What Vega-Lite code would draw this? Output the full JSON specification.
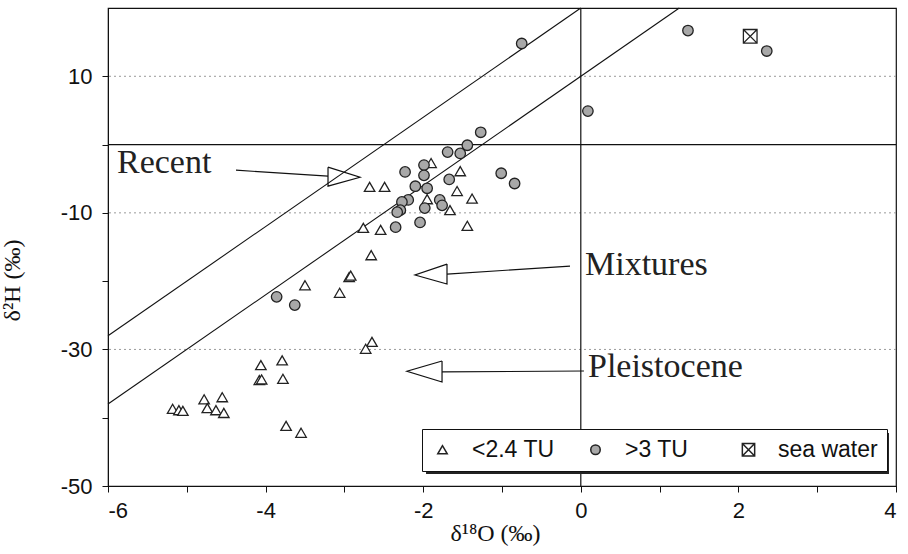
{
  "$schema": "https://vega.github.io/schema/vega-lite/v6.json",
  "width": 788,
  "height": 478,
  "autosize": {"type": "none"},
  "padding": {"left": 108, "top": 8, "right": 12, "bottom": 68},
  "background": "white",
  "config": {
    "view": {"stroke": "#111", "strokeWidth": 1.2},
    "font": "Liberation Sans",
    "axis": {
      "domainColor": "#111",
      "tickColor": "#111",
      "labelColor": "#111",
      "titleColor": "#111",
      "grid": false,
      "labelFont": "Liberation Sans",
      "labelFontSize": 22,
      "tickSize": 6,
      "titleFont": "Liberation Serif",
      "titleFontSize": 24,
      "titleFontWeight": "normal"
    },
    "legend": {
      "orient": "none",
      "legendX": 314,
      "legendY": 421,
      "direction": "horizontal",
      "fillColor": "white",
      "strokeColor": "#111",
      "padding": 9,
      "labelFont": "Liberation Sans",
      "labelFontSize": 23,
      "labelColor": "#111",
      "labelOffset": 18,
      "columnPadding": 12,
      "gridAlign": "all",
      "symbolSize": 90
    }
  },
  "datasets": {
    "samples": [
      {"type": "<2.4 TU", "x": -2.68, "y": -6.2},
      {"type": "<2.4 TU", "x": -2.49, "y": -6.2},
      {"type": "<2.4 TU", "x": -1.90, "y": -2.7},
      {"type": "<2.4 TU", "x": -1.53, "y": -3.9},
      {"type": "<2.4 TU", "x": -1.57, "y": -6.8},
      {"type": "<2.4 TU", "x": -1.38, "y": -7.9},
      {"type": "<2.4 TU", "x": -1.95, "y": -8.0},
      {"type": "<2.4 TU", "x": -1.66, "y": -9.6},
      {"type": "<2.4 TU", "x": -1.44, "y": -11.9},
      {"type": "<2.4 TU", "x": -2.76, "y": -12.2},
      {"type": "<2.4 TU", "x": -2.54, "y": -12.5},
      {"type": "<2.4 TU", "x": -2.66, "y": -16.2},
      {"type": "<2.4 TU", "x": -2.94, "y": -19.4},
      {"type": "<2.4 TU", "x": -2.92, "y": -19.2},
      {"type": "<2.4 TU", "x": -3.50, "y": -20.6},
      {"type": "<2.4 TU", "x": -3.06, "y": -21.7},
      {"type": "<2.4 TU", "x": -2.65, "y": -28.9},
      {"type": "<2.4 TU", "x": -2.73, "y": -29.9},
      {"type": "<2.4 TU", "x": -4.06, "y": -32.3},
      {"type": "<2.4 TU", "x": -3.79, "y": -31.6},
      {"type": "<2.4 TU", "x": -4.08, "y": -34.5},
      {"type": "<2.4 TU", "x": -4.05, "y": -34.4},
      {"type": "<2.4 TU", "x": -3.78, "y": -34.3},
      {"type": "<2.4 TU", "x": -4.78, "y": -37.3},
      {"type": "<2.4 TU", "x": -4.55, "y": -37.0},
      {"type": "<2.4 TU", "x": -5.18, "y": -38.7},
      {"type": "<2.4 TU", "x": -5.10, "y": -38.9},
      {"type": "<2.4 TU", "x": -5.05, "y": -39.0},
      {"type": "<2.4 TU", "x": -4.74, "y": -38.6},
      {"type": "<2.4 TU", "x": -4.63, "y": -38.9},
      {"type": "<2.4 TU", "x": -4.53, "y": -39.3},
      {"type": "<2.4 TU", "x": -3.74, "y": -41.2},
      {"type": "<2.4 TU", "x": -3.55, "y": -42.2},
      {"type": ">3 TU", "x": -0.75, "y": 14.8},
      {"type": ">3 TU", "x": 1.36, "y": 16.7},
      {"type": ">3 TU", "x": 2.36, "y": 13.7},
      {"type": ">3 TU", "x": 0.09, "y": 4.9},
      {"type": ">3 TU", "x": -1.27, "y": 1.8},
      {"type": ">3 TU", "x": -1.44, "y": -0.1},
      {"type": ">3 TU", "x": -1.69, "y": -1.1},
      {"type": ">3 TU", "x": -1.53, "y": -1.3},
      {"type": ">3 TU", "x": -1.99, "y": -3.0},
      {"type": ">3 TU", "x": -2.23, "y": -4.0},
      {"type": ">3 TU", "x": -1.99, "y": -4.5},
      {"type": ">3 TU", "x": -1.01, "y": -4.2},
      {"type": ">3 TU", "x": -0.84, "y": -5.7},
      {"type": ">3 TU", "x": -1.67, "y": -5.1},
      {"type": ">3 TU", "x": -2.10, "y": -6.1},
      {"type": ">3 TU", "x": -1.95, "y": -6.4},
      {"type": ">3 TU", "x": -2.19, "y": -8.1},
      {"type": ">3 TU", "x": -2.27, "y": -8.4},
      {"type": ">3 TU", "x": -1.79, "y": -8.1},
      {"type": ">3 TU", "x": -1.76, "y": -8.9},
      {"type": ">3 TU", "x": -1.98, "y": -9.3},
      {"type": ">3 TU", "x": -2.29, "y": -9.6},
      {"type": ">3 TU", "x": -2.33, "y": -9.9},
      {"type": ">3 TU", "x": -2.04, "y": -11.4},
      {"type": ">3 TU", "x": -2.35, "y": -12.1},
      {"type": ">3 TU", "x": -3.86, "y": -22.3},
      {"type": ">3 TU", "x": -3.63, "y": -23.5},
      {"type": "sea water", "x": 2.15, "y": 15.85}
    ],
    "waterLines": [
      {"line": "recent", "x": -6, "y": -28},
      {"line": "recent", "x": 0, "y": 20},
      {"line": "lower", "x": -6, "y": -38},
      {"line": "lower", "x": 1.25, "y": 20}
    ],
    "arrows": [
      {"id": "recent-shaft", "seq": 1, "x": -4.376, "y": -3.75},
      {"id": "recent-shaft", "seq": 2, "x": -3.208, "y": -4.63},
      {"id": "recent-head", "seq": 1, "x": -3.208, "y": -3.31},
      {"id": "recent-head", "seq": 2, "x": -2.802, "y": -4.78},
      {"id": "recent-head", "seq": 3, "x": -3.208, "y": -6.09},
      {"id": "recent-head", "seq": 4, "x": -3.208, "y": -3.31},
      {"id": "mix-shaft", "seq": 1, "x": -0.137, "y": -17.8},
      {"id": "mix-shaft", "seq": 2, "x": -1.698, "y": -18.97},
      {"id": "mix-head", "seq": 1, "x": -1.698, "y": -17.5},
      {"id": "mix-head", "seq": 2, "x": -2.104, "y": -19.1},
      {"id": "mix-head", "seq": 3, "x": -1.698, "y": -20.43},
      {"id": "mix-head", "seq": 4, "x": -1.698, "y": -17.5},
      {"id": "pleist-shaft", "seq": 1, "x": 0.04, "y": -33.16},
      {"id": "pleist-shaft", "seq": 2, "x": -1.761, "y": -33.3},
      {"id": "pleist-head", "seq": 1, "x": -1.761, "y": -31.7},
      {"id": "pleist-head", "seq": 2, "x": -2.206, "y": -33.2},
      {"id": "pleist-head", "seq": 3, "x": -1.761, "y": -34.77},
      {"id": "pleist-head", "seq": 4, "x": -1.761, "y": -31.7}
    ],
    "labels": [
      {"text": "Recent", "x": -5.886, "y": -4.2},
      {"text": "Mixtures", "x": 0.053, "y": -19.1},
      {"text": "Pleistocene", "x": 0.091, "y": -34.0}
    ],
    "grid": [{"y": -30}, {"y": -10}, {"y": 10}]
  },
  "layer": [
    {
      "data": {"name": "grid"},
      "mark": {"type": "rule", "stroke": "#9a9a9a", "strokeWidth": 1, "strokeDash": [2, 3]},
      "encoding": {
        "y": {"field": "y", "type": "quantitative", "scale": {"domain": [-50, 20], "nice": false}}
      }
    },
    {
      "data": {"values": [{}]},
      "mark": {"type": "rule", "stroke": "#111", "strokeWidth": 1.2},
      "encoding": {"x": {"datum": 0}}
    },
    {
      "data": {"values": [{}]},
      "mark": {"type": "rule", "stroke": "#111", "strokeWidth": 1.2},
      "encoding": {"y": {"datum": 0}}
    },
    {
      "data": {"name": "waterLines"},
      "mark": {"type": "line", "stroke": "#111", "strokeWidth": 1.1},
      "encoding": {
        "x": {"field": "x", "type": "quantitative"},
        "y": {"field": "y", "type": "quantitative"},
        "detail": {"field": "line"}
      }
    },
    {
      "data": {"values": [{}]},
      "mark": {"type": "rect", "fill": "#222"},
      "encoding": {
        "x": {"datum": -1.964},
        "x2": {"datum": 3.911},
        "y": {"datum": -42.24},
        "y2": {"datum": -48.24}
      }
    },
    {
      "data": {"name": "samples"},
      "mark": {"type": "point", "filled": true, "stroke": "#222", "strokeWidth": 1.3, "size": 110, "opacity": 1},
      "encoding": {
        "x": {
          "field": "x",
          "type": "quantitative",
          "scale": {"domain": [-6, 4], "nice": false},
          "axis": {
            "title": "δ¹⁸O (‰)",
            "values": [-6, -5, -4, -3, -2, -1, 0, 1, 2, 3, 4],
            "labelExpr": "datum.value % 2 === 0 ? '' + datum.value : ''",
            "labelPadding": 8,
            "titleX": 387,
            "titleY": 54,
            "titleBaseline": "alphabetic"
          }
        },
        "y": {
          "field": "y",
          "type": "quantitative",
          "scale": {"domain": [-50, 20], "nice": false},
          "axis": {
            "title": "δ²H (‰)",
            "values": [-50, -40, -30, -20, -10, 0, 10],
            "labelExpr": "(datum.value + 50) % 20 === 0 ? '' + datum.value : ''",
            "labelPadding": 10,
            "titleX": -84,
            "titleY": 272
          }
        },
        "shape": {
          "field": "type",
          "type": "nominal",
          "title": null,
          "scale": {
            "domain": ["<2.4 TU", ">3 TU", "sea water"],
            "range": ["triangle-up", "circle", "M-1.3,-1.3H1.3V1.3H-1.3Z M-1.3,-1.3L1.3,1.3 M1.3,-1.3L-1.3,1.3"]
          },
          "legend": {
            "encode": {
              "symbols": {
                "update": {
                  "stroke": {"value": "#222"},
                  "strokeWidth": {"value": 1.3}
                }
              }
            }
          }
        },
        "fill": {
          "field": "type",
          "type": "nominal",
          "title": null,
          "scale": {
            "domain": ["<2.4 TU", ">3 TU", "sea water"],
            "range": ["white", "#a8a8a8", "white"]
          },
          "legend": {
            "encode": {
              "symbols": {
                "update": {
                  "stroke": {"value": "#222"},
                  "strokeWidth": {"value": 1.3}
                }
              }
            }
          }
        }
      }
    },
    {
      "data": {"name": "arrows"},
      "mark": {"type": "line", "stroke": "#111", "strokeWidth": 1.2},
      "encoding": {
        "x": {"field": "x", "type": "quantitative"},
        "y": {"field": "y", "type": "quantitative"},
        "detail": {"field": "id"},
        "order": {"field": "seq"}
      }
    },
    {
      "data": {"name": "labels"},
      "mark": {"type": "text", "font": "Liberation Serif", "fontSize": 34, "align": "left", "baseline": "alphabetic", "color": "#222"},
      "encoding": {
        "x": {"field": "x", "type": "quantitative"},
        "y": {"field": "y", "type": "quantitative"},
        "text": {"field": "text"}
      }
    }
  ]
}
